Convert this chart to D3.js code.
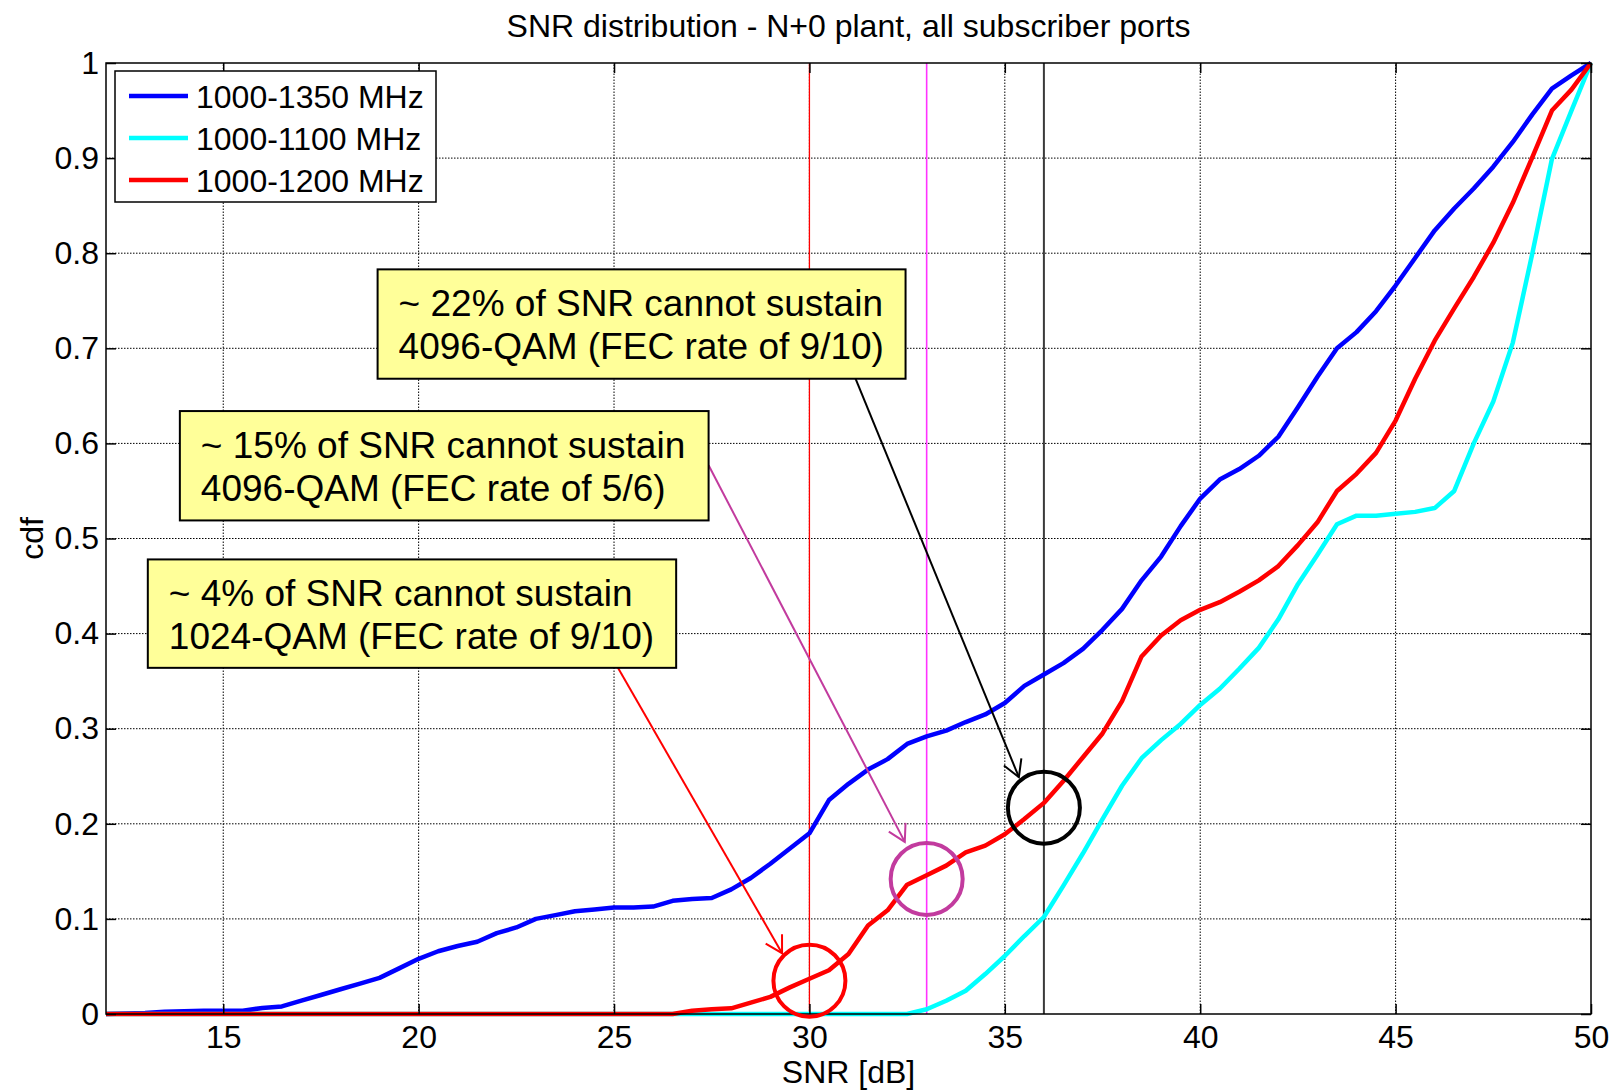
<!DOCTYPE html>
<html>
<head>
<meta charset="utf-8">
<script src="https://cdn.jsdelivr.net/npm/d3@7"></script>
<style>
  body { margin: 0; background: #fff; }
  svg { display: block; font-family: "Liberation Sans", Arial, sans-serif; }
</style>
</head>
<body>
<script>
// SNR sample points [dB]
let snr = [12, 12.5, 13, 13.5, 14, 14.5, 15, 15.5, 16, 16.5,
    17, 17.5, 18, 18.5, 19, 19.5, 20, 20.5, 21, 21.5,
    22, 22.5, 23, 23.5, 24, 24.5, 25, 25.5, 26, 26.5,
    27, 27.5, 28, 28.5, 29, 29.5, 30, 30.5, 31, 31.5,
    32, 32.5, 33, 33.5, 34, 34.5, 35, 35.5, 36, 36.5,
    37, 37.5, 38, 38.5, 39, 39.5, 40, 40.5, 41, 41.5,
    42, 42.5, 43, 43.5, 44, 44.5, 45, 45.5, 46, 46.5,
    47, 47.5, 48, 48.5, 49, 49.5, 50];

let cdf1350 = [0, 0.0005, 0.001, 0.0024, 0.003, 0.0035, 0.0035, 0.0035, 0.0063, 0.008,
    0.014, 0.020, 0.026, 0.032, 0.038, 0.048, 0.058, 0.066, 0.0715, 0.076,
    0.085, 0.091, 0.100, 0.104, 0.108, 0.110, 0.112, 0.112, 0.113, 0.119,
    0.121, 0.122, 0.131, 0.143, 0.158, 0.174, 0.190, 0.225, 0.242, 0.257,
    0.268, 0.284, 0.292, 0.298, 0.307, 0.315, 0.327, 0.345, 0.357, 0.369,
    0.384, 0.404, 0.426, 0.456, 0.481, 0.513, 0.542, 0.562, 0.573, 0.587,
    0.607, 0.638, 0.670, 0.700, 0.717, 0.739, 0.766, 0.795, 0.824, 0.847,
    0.868, 0.891, 0.917, 0.946, 0.973, 0.987, 1.0];

let cdf1100 = [0, 0, 0, 0, 0, 0, 0, 0, 0, 0,
    0, 0, 0, 0, 0, 0, 0, 0, 0, 0,
    0, 0, 0, 0, 0, 0, 0, 0, 0, 0,
    0, 0, 0, 0, 0, 0, 0, 0, 0, 0,
    0, 0, 0.005, 0.014, 0.0245, 0.042, 0.061, 0.082, 0.102, 0.135,
    0.169, 0.205, 0.240, 0.269, 0.288, 0.305, 0.325, 0.342, 0.363, 0.385,
    0.415, 0.452, 0.483, 0.515, 0.524, 0.524, 0.526, 0.528, 0.532, 0.550,
    0.600, 0.644, 0.706, 0.800, 0.899, 0.950, 1.0];

let cdf1200 = [0, 0, 0, 0, 0, 0, 0, 0, 0, 0,
    0, 0, 0, 0, 0, 0, 0, 0, 0, 0,
    0, 0, 0, 0, 0, 0, 0, 0, 0, 0,
    0.0035, 0.005, 0.006, 0.012, 0.018, 0.028, 0.037, 0.046, 0.063, 0.093,
    0.109, 0.136, 0.146, 0.156, 0.170, 0.177, 0.189, 0.205, 0.222, 0.245,
    0.270, 0.295, 0.329, 0.376, 0.398, 0.414, 0.425, 0.433, 0.444, 0.456,
    0.471, 0.493, 0.517, 0.550, 0.568, 0.590, 0.624, 0.668, 0.708, 0.742,
    0.775, 0.811, 0.853, 0.901, 0.950, 0.972, 1.0];

let seriesNames = ["1000-1350 MHz", "1000-1100 MHz", "1000-1200 MHz"];
let xTicks = [15, 20, 25, 30, 35, 40, 45, 50];
let yTicks = [0, 0.1, 0.2, 0.3, 0.4, 0.5, 0.6, 0.7, 0.8, 0.9, 1];

// SNR thresholds and the cdf of the 1000-1200 MHz curve there
let thresholdSnr = [30, 33, 36];
let thresholdCdf = [0.035, 0.142, 0.217];
let noteLines = [
    ["~ 4% of SNR cannot sustain", "1024-QAM (FEC rate of 9/10)"],
    ["~ 15% of SNR cannot sustain", "4096-QAM (FEC rate of 5/6)"],
    ["~ 22% of SNR cannot sustain", "4096-QAM (FEC rate of 9/10)"]
];


let width = 1614, height = 1090;
let x = d3.scaleLinear().domain([12, 50]).range([106, 1591]);
let y = d3.scaleLinear().domain([0, 1]).range([1014, 63]);

let svg = d3.select('body').append('svg')
    .attr('width', width)
    .attr('height', height);

// grid
let grid = svg.append('g')
    .attr('stroke', '#000')
    .attr('stroke-width', 1)
    .attr('stroke-dasharray', '1.5,1.5');
grid.selectAll('.gx').data(xTicks.slice(0, -1)).enter().append('line')
    .attr('x1', d => x(d)).attr('x2', d => x(d))
    .attr('y1', y(0)).attr('y2', y(1));
grid.selectAll('.gy').data(yTicks.slice(1, -1)).enter().append('line')
    .attr('x1', x(12)).attr('x2', x(50))
    .attr('y1', d => y(d)).attr('y2', d => y(d));

// threshold lines
let refColors = ['#ff0000', '#ff33ff', '#3a3a3a'];
let refWidths = [1.3, 1.6, 2];
svg.selectAll('.ref').data(thresholdSnr).enter().append('line')
    .attr('x1', d => x(d)).attr('x2', d => x(d))
    .attr('y1', y(0)).attr('y2', y(1))
    .attr('stroke', (d, i) => refColors[i])
    .attr('stroke-width', (d, i) => refWidths[i]);

// curves
let colors = ['#0000ff', '#00ffff', '#ff0000'];
let series = [cdf1350, cdf1100, cdf1200];
let line = d3.line()
    .x((d, i) => x(snr[i]))
    .y(d => y(d));

svg.selectAll('.curve').data(series).enter().append('path')
    .attr('d', d => line(d))
    .attr('fill', 'none')
    .attr('stroke', (d, i) => colors[i])
    .attr('stroke-width', 4.5)
    .attr('stroke-linejoin', 'round');

// axes: ticks inside like matlab
let tickFont = 32;
let axB = svg.append('g').attr('transform', `translate(0,${y(0)})`)
    .call(d3.axisBottom(x).tickValues(xTicks).tickSizeInner(-10).tickSizeOuter(0).tickPadding(11));
let axT = svg.append('g').attr('transform', `translate(0,${y(1)})`)
    .call(d3.axisTop(x).tickValues(xTicks).tickSizeInner(-10).tickSizeOuter(0).tickFormat(''));
let axL = svg.append('g').attr('transform', `translate(${x(12)},0)`)
    .call(d3.axisLeft(y).tickValues(yTicks).tickSizeInner(-10).tickSizeOuter(0).tickPadding(7).tickFormat(d => d));
let axR = svg.append('g').attr('transform', `translate(${x(50)},0)`)
    .call(d3.axisRight(y).tickValues(yTicks).tickSizeInner(-10).tickSizeOuter(0).tickFormat(''));

[axB, axT, axL, axR].forEach(a => {
    a.select('.domain').remove();
    a.selectAll('line').attr('stroke', '#000').attr('stroke-width', 1.5);
    a.selectAll('text')
        .attr('fill', '#000')
        .style('font-size', tickFont + 'px')
        .style('font-family', '"Liberation Sans", Arial, sans-serif');
});

// axes box
svg.append('rect')
    .attr('x', x(12)).attr('y', y(1))
    .attr('width', x(50) - x(12)).attr('height', y(0) - y(1))
    .attr('fill', 'none')
    .attr('stroke', '#000')
    .attr('stroke-width', 1.5);

// circles round the threshold points
let markColors = ['#ff0000', '#c23b9e', '#000000'];
svg.selectAll('.mark').data(thresholdSnr).enter().append('circle')
    .attr('cx', d => x(d))
    .attr('cy', (d, i) => y(thresholdCdf[i]))
    .attr('r', 36)
    .attr('fill', 'none')
    .attr('stroke', (d, i) => markColors[i])
    .attr('stroke-width', 4);

// note boxes, in data coordinates: [left snr, top cdf, right snr, bottom cdf]
let noteBoxes = [
    [13.07, 0.478, 26.59, 0.364],
    [13.89, 0.634, 27.42, 0.519],
    [18.95, 0.783, 32.46, 0.668]
];
// arrow start and tip, data coordinates
let noteArrows = [
    [25.1, 0.364, 29.3, 0.064],
    [27.42, 0.577, 32.44, 0.181],
    [31.18, 0.668, 35.36, 0.249]
];

let arrows = svg.append('g');
noteArrows.forEach((a, i) => {
    let x1 = x(a[0]), y1 = y(a[1]), x2 = x(a[2]), y2 = y(a[3]);
    let ang = Math.atan2(y2 - y1, x2 - x1);
    let len = 19, spread = 0.52;
    arrows.append('line')
        .attr('x1', x1).attr('y1', y1).attr('x2', x2).attr('y2', y2)
        .attr('stroke', markColors[i]).attr('stroke-width', 2);
    arrows.append('path')
        .attr('d', `M${x2 - len * Math.cos(ang - spread)},${y2 - len * Math.sin(ang - spread)}L${x2},${y2}L${x2 - len * Math.cos(ang + spread)},${y2 - len * Math.sin(ang + spread)}`)
        .attr('fill', 'none')
        .attr('stroke', markColors[i]).attr('stroke-width', 2);
});

let notes = svg.selectAll('.note').data(noteLines).enter().append('g')
    .attr('transform', (d, i) => `translate(${x(noteBoxes[i][0])},${y(noteBoxes[i][1])})`);
notes.append('rect')
    .attr('width', (d, i) => x(noteBoxes[i][2]) - x(noteBoxes[i][0]))
    .attr('height', (d, i) => y(noteBoxes[i][3]) - y(noteBoxes[i][1]))
    .attr('fill', '#ffff99')
    .attr('stroke', '#000')
    .attr('stroke-width', 2);
notes.each(function (d) {
    d3.select(this).selectAll('text').data(d).enter().append('text')
        .attr('x', 21)
        .attr('y', (t, j) => 47 + j * 43)
        .style('font-size', '37px')
        .text(t => t);
});

// legend
let legend = svg.append('g').attr('transform', 'translate(115,71)');
legend.append('rect')
    .attr('width', 321).attr('height', 131)
    .attr('fill', '#fff').attr('stroke', '#000').attr('stroke-width', 1.5);
let item = legend.selectAll('.item').data(seriesNames).enter().append('g')
    .attr('transform', (d, i) => `translate(0,${25 + i * 42})`);
item.append('line')
    .attr('x1', 14).attr('x2', 73)
    .attr('stroke', (d, i) => colors[i])
    .attr('stroke-width', 4.5);
item.append('text')
    .attr('x', 81).attr('y', 12)
    .style('font-size', '32px')
    .text(d => d);

// titles
svg.append('text')
    .attr('x', (x(12) + x(50)) / 2).attr('y', 37)
    .attr('text-anchor', 'middle')
    .style('font-size', '32px')
    .text('SNR distribution - N+0 plant, all subscriber ports');
svg.append('text')
    .attr('x', (x(12) + x(50)) / 2).attr('y', 1083)
    .attr('text-anchor', 'middle')
    .style('font-size', '32px')
    .text('SNR [dB]');
svg.append('text')
    .attr('transform', `translate(43,${(y(0) + y(1)) / 2}) rotate(-90)`)
    .attr('text-anchor', 'middle')
    .style('font-size', '32px')
    .text('cdf');
</script>
</body>
</html>
